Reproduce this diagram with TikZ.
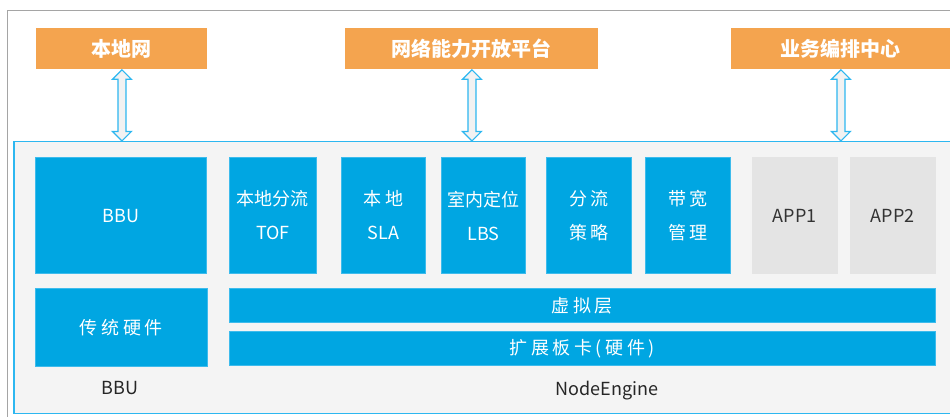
\documentclass[tikz,border=0pt]{standalone}
\usepackage{fontspec}
\setmainfont{Noto Sans CJK SC}
\newfontfamily\widecjk[LetterSpace=20]{Noto Sans CJK SC}
\usetikzlibrary{calc}

\definecolor{orangebox}{HTML}{F4A44F}
\definecolor{bluebox}{HTML}{00A6E2}
\definecolor{blueedge}{HTML}{3DBBEC}
\definecolor{appbox}{HTML}{E4E4E4}
\definecolor{enginefill}{HTML}{F4F4F4}
\definecolor{engineline}{HTML}{2DB7F0}
\definecolor{frameline}{HTML}{A5A5A5}

\tikzset{
  title/.style={fill=orangebox, text=white, anchor=north west, inner sep=0pt,
    minimum height=20.75pt, font=\fontsize{10}{12}\selectfont\bfseries},
  func/.style={fill=bluebox, draw=blueedge, line width=0.3pt, text=white,
    anchor=north west, inner sep=0pt, minimum height=58.25pt, align=center,
    font=\fontsize{9}{17}\selectfont},
  app/.style={func, fill=appbox, draw=appbox, text=black!80},
  layer/.style={func, minimum height=17pt},
  caption/.style={text=black!85, font=\fontsize{9}{11}\selectfont},
  twoway/.style={draw=engineline, fill=black!5, line width=0.6pt, line join=miter}
}

\begin{document}
\begin{tikzpicture}[x=0.5pt, y=-0.5pt]
  \useasboundingbox (0,0) rectangle (950,417);
  % outer frame
  \draw[frameline, line width=0.5pt] (7,417) -- (7,11) -- (950,11);

  % top platforms
  \node[title, minimum width=85.5pt] (lan) at (36,27.5) {本地网};
  \node[title, minimum width=126.5pt] (open) at (345,27.5) {网络能力开放平台};
  \node[title, minimum width=109.5pt] (orch) at (731,27.5) {业务编排中心};

  % node engine frame
  \node[fill=enginefill, draw=engineline, line width=0.75pt, anchor=north west,
    inner sep=0pt, minimum width=473.5pt, minimum height=136pt] (eng) at (13,141) {};

  % links
  \foreach \n in {lan,open,orch}
    \draw[twoway] (\n.south) -- ++(-9.5,9.5) -- ++(5.5,0)
      -- ($(\n.south |- eng.north)+(-4,-9.5)$) -- ++(-5.5,0)
      -- (\n.south |- eng.north) -- ++(9.5,-9.5) -- ++(-5.5,0)
      -- ($(\n.south)+(4,9.5)$) -- ++(5.5,0) -- cycle;

  % functions
  \node[func, minimum width=85.5pt] (bbu) at (35,157) {BBU};
  \node[func, minimum width=43.5pt] (tof) at (229,157) {本地分流\\TOF};
  \node[func, minimum width=42pt] (sla) at (341,157) {{\widecjk 本地}\\SLA};
  \node[func, minimum width=42pt] (lbs) at (441,157) {室内定位\\LBS};
  \node[func, minimum width=42.5pt, font=\fontsize{9}{17}\widecjk] (flow) at (546,157) {分流\\策略};
  \node[func, minimum width=42.5pt, font=\fontsize{9}{17}\widecjk] (bw) at (645,157) {带宽\\管理};
  \node[app, minimum width=42.5pt] (app1) at (752,157) {APP1};
  \node[app, minimum width=42.5pt] (app2) at (850,157) {APP2};

  % hardware
  \node[func, minimum width=86pt, minimum height=39pt, font=\fontsize{9}{11}\widecjk] (hw) at (35,288) {传统硬件};
  \node[layer, minimum width=353pt, font=\fontsize{9}{11}\widecjk] (virt) at (229,288) {虚拟层};
  \node[layer, minimum width=353pt, font=\fontsize{9}{11}\widecjk] (card) at (229,331) {扩展板卡(硬件)};

  \node[caption] (bbucap) at (120,388) {BBU};
  \node[caption] (engcap) at (607,391) {NodeEngine};
\end{tikzpicture}
\end{document}
